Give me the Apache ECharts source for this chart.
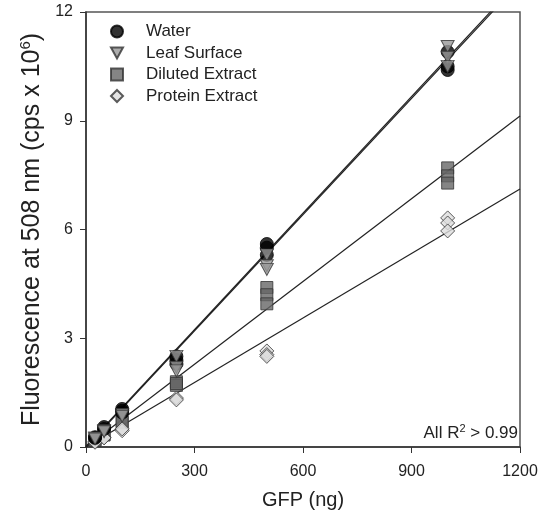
<!DOCTYPE html>
<html><head><meta charset="utf-8">
<script src="https://cdn.jsdelivr.net/npm/echarts@6/dist/echarts.min.js"></script>
<style>html,body{margin:0;padding:0;background:#fff}#c{width:549px;height:523px}</style>
</head><body><div id="c"></div>
<script>
const xTicks = [0, 300, 600, 900, 1200];
const yTicks = [0, 3, 6, 9, 12];
const seriesNames = ['Water', 'Leaf Surface', 'Diluted Extract', 'Protein Extract'];
const water = [[25,0.27],[25,0.25],[50,0.55],[50,0.5],[100,1.05],[100,1.0],[100,0.95],[250,2.4],[250,2.5],[250,2.3],[500,5.6],[500,5.5],[500,5.3],[1000,10.4],[1000,10.5],[1000,10.9]];
const leaf = [[25,0.25],[25,0.22],[50,0.45],[50,0.42],[100,0.9],[100,0.85],[250,2.5],[250,2.2],[250,2.1],[500,5.3],[500,5.0],[500,4.9],[1000,11.05],[1000,10.75],[1000,10.5]];
const diluted = [[25,0.2],[25,0.18],[50,0.35],[50,0.33],[100,0.7],[100,0.68],[250,1.8],[250,1.7],[250,1.75],[500,4.4],[500,4.2],[500,3.95],[1000,7.7],[1000,7.48],[1000,7.28]];
const protein = [[25,0.15],[25,0.13],[50,0.27],[50,0.25],[100,0.45],[100,0.5],[250,1.35],[250,1.3],[500,2.65],[500,2.55],[500,2.5],[1000,6.32],[1000,6.18],[1000,5.96]];
const waterFit = [[0,0.02],[1200,12.88]];
const leafFit = [[0,0.0],[1200,12.82]];
const dilutedFit = [[0,0.0],[1200,9.13]];
const proteinFit = [[0,0.0],[1200,7.12]];

const chart = echarts.init(document.getElementById('c'), null, {renderer:'canvas'});
const font = 'Liberation Sans, Arial, sans-serif';
const invTri = 'path://M0,0 L10,0 L5,9 Z';
const fitLine = (d) => ({type:'line', data:d, symbol:'none', silent:true, lineStyle:{color:'#222', width:1.2}, z:1, legendHoverLink:false});
chart.setOption({
  animation:false,
  grid:{left:86, right:29, top:12, bottom:76, show:true, borderColor:'#555', borderWidth:1.5},
  legend:{
    data:seriesNames, orient:'vertical', left:105, top:18, itemGap:4.5, itemWidth:12, itemHeight:12,
    textStyle:{fontFamily:font, fontSize:17, color:'#222', padding:[0,0,0,18]}
  },
  xAxis:{type:'value', min:0, max:1200, interval:300,
    name:'GFP (ng)', nameLocation:'middle', nameGap:43,
    nameTextStyle:{fontFamily:font, fontSize:20, color:'#222'},
    axisLine:{onZero:false, lineStyle:{color:'#333', width:1.5}},
    axisTick:{show:true, length:6, lineStyle:{color:'#333'}},
    axisLabel:{fontFamily:font, fontSize:16, color:'#222', margin:17, formatter:(v)=>String(v)},
    splitLine:{show:false}},
  yAxis:{type:'value', min:0, max:12, interval:3,
    name:'Fluorescence at 508 nm (cps x 10{s|6})', nameLocation:'middle', nameGap:37,
    nameTextStyle:{fontFamily:font, fontSize:25, color:'#222', rich:{s:{fontFamily:font, fontSize:15, color:'#222', verticalAlign:'top', padding:[0,0,11,0]}}},
    axisLine:{onZero:false, lineStyle:{color:'#333', width:1.5}},
    axisTick:{show:true, length:6, lineStyle:{color:'#333'}},
    axisLabel:{fontFamily:font, fontSize:16, color:'#222', margin:13},
    splitLine:{show:false}},
  series:[
    Object.assign(fitLine(waterFit), {name:'waterFit'}),
    Object.assign(fitLine(leafFit), {name:'leafFit'}),
    Object.assign(fitLine(dilutedFit), {name:'dilutedFit'}),
    Object.assign(fitLine(proteinFit), {name:'proteinFit'}),
    {name:'Water', type:'scatter', data:water, symbol:'circle', symbolSize:13, itemStyle:{color:'#000', borderColor:'#000', borderWidth:1}, z:5},
    {name:'Leaf Surface', type:'scatter', data:leaf, symbol:invTri, symbolSize:[13,12], itemStyle:{color:'#999', borderColor:'#333', borderWidth:1}, z:6},
    {name:'Diluted Extract', type:'scatter', data:diluted, symbol:'rect', symbolSize:12, itemStyle:{color:'#666', borderColor:'#333', borderWidth:1}, z:4},
    {name:'Protein Extract', type:'scatter', data:protein, symbol:'diamond', symbolSize:14, itemStyle:{color:'#ddd', borderColor:'#333', borderWidth:1}, z:4}
  ],
  graphic:[{type:'text', right:31, top:423, style:{rich:{a:{fontFamily:font, fontSize:17, fill:'#222'}, s:{fontFamily:font, fontSize:11, fill:'#222', padding:[0,0,9,0]}}, text:'{a|All R}{s|2}{a| > 0.99}'}}]
});
</script></body></html>
